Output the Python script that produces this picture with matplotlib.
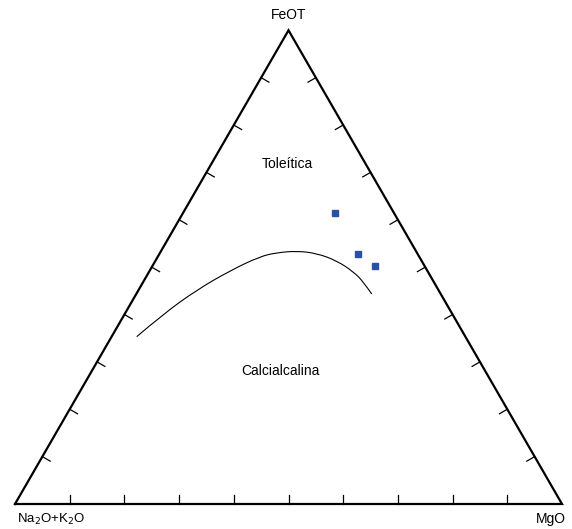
import numpy as np
import matplotlib
matplotlib.use("Agg")
import matplotlib.pyplot as plt
from matplotlib.path import Path
from matplotlib.patches import PathPatch

# Ternary data: (FeOT, MgO, Na2O+K2O) fractions
sample_feot = [0.614, 0.528, 0.502]
sample_mgo = [0.278, 0.363, 0.407]
sample_alk = [0.108, 0.109, 0.091]

# Irvine & Baragar boundary
line_feot = [0.3532, 0.4011, 0.4517, 0.4925, 0.5225, 0.5305, 0.5341, 0.5292,
             0.5136, 0.4904, 0.4693, 0.4433]
line_mgo = [0.0459, 0.0706, 0.1063, 0.1468, 0.1867, 0.2132, 0.2480, 0.2869,
            0.3313, 0.3733, 0.4021, 0.4305]

vertex_labels = ["FeOT", "Na$_2$O+K$_2$O", "MgO"]
field_labels = ["Toleítica", "Calcialcalina"]

plt.rcParams['font.family'] = ['Liberation Sans', 'DejaVu Sans']

def tern(f, m):
    f = np.asarray(f, float); m = np.asarray(m, float)
    return m + f / 2.0, f * np.sqrt(3) / 2.0

fig = plt.figure(figsize=(5.72, 5.29), dpi=100)
ax = fig.add_axes([0, 0, 1, 1])
ax.set_xlim(-15 / 547, 557 / 547)
ax.set_ylim(-25 / 547, 504 / 547)
ax.axis('off')

h = np.sqrt(3) / 2
tri_x = [0, 1, 0.5, 0]
tri_y = [0, 0, h, 0]
ax.plot(tri_x, tri_y, color='black', lw=1.6, solid_joinstyle='miter', zorder=3)

# ticks perpendicular, inward
tl = 0.0165
c30, s30 = np.cos(np.radians(30)), np.sin(np.radians(30))
for i in range(1, 10):
    t = i / 10
    ax.plot([t, t], [0, tl], color='black', lw=0.9)
    px, py = 0.5 * t, h * t
    ax.plot([px, px + tl * c30], [py, py - tl * s30], color='black', lw=0.9)
    px, py = 1 - 0.5 * t, h * t
    ax.plot([px, px - tl * c30], [py, py - tl * s30], color='black', lw=0.9)

# smooth boundary curve: quadratic Bezier through midpoints
lx, ly = tern(line_feot, line_mgo)
pts = np.column_stack([lx, ly])
verts = [pts[0]]
codes = [Path.MOVETO]
for k in range(1, len(pts) - 1):
    mid = (pts[k] + pts[k + 1]) / 2 if k < len(pts) - 2 else pts[k + 1]
    verts += [pts[k], mid]
    codes += [Path.CURVE3, Path.CURVE3]
ax.add_patch(PathPatch(Path(verts, codes), fill=False, edgecolor='black', lw=0.8))

sx, sy = tern(sample_feot, sample_mgo)
ax.plot(sx, sy, ls='none', marker='s', ms=4.6, color='#2B50AA', mec='#2B50AA')

fs = 10
ax.text(0.5, (504 - 15) / 547, vertex_labels[0], ha='center', va='center', fontsize=fs)
ax.text(2 / 547, -(519 - 504) / 547, vertex_labels[1], ha='left', va='center', fontsize=9.5)
ax.text(551 / 547, -(519 - 504) / 547, vertex_labels[2], ha='right', va='center', fontsize=fs)
ax.text((287 - 15) / 547, (504 - 164) / 547, field_labels[0], ha='center', va='center', fontsize=fs)
ax.text((280 - 15) / 547, (504 - 371) / 547, field_labels[1], ha='center', va='center', fontsize=fs)

fig.savefig("out.png", dpi=100)
